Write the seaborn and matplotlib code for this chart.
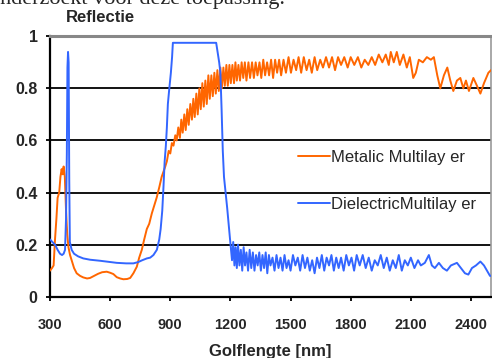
import matplotlib
matplotlib.use("Agg")
import matplotlib.pyplot as plt
import numpy as np
import pandas as pd
import seaborn as sns

# ---------------------------------------------------------------------------
# Data
# ---------------------------------------------------------------------------
metal_nm = [
    300, 310, 318, 325, 332, 338, 346, 352, 358, 363, 368, 374, 380, 386, 392,
    400, 408, 420, 433, 450, 466, 485, 500, 520, 540, 560, 583, 600, 616, 633,
    650, 666, 685, 700, 716, 733, 745, 758, 770, 783, 795, 808, 820, 832, 845,
    857, 866, 875, 883, 892, 900, 908, 916, 925, 932, 940, 948, 955, 962, 970,
    977, 985, 992, 1000, 1008, 1015, 1022, 1030, 1037, 1045, 1052, 1060, 1067,
    1075, 1082, 1090, 1097, 1105, 1112, 1120, 1127, 1135, 1142, 1150, 1157,
    1165, 1172, 1180, 1187, 1195, 1202, 1210, 1218, 1225, 1232, 1240, 1248,
    1256, 1264, 1272, 1280, 1290, 1298, 1308, 1317, 1326, 1335, 1345, 1354,
    1364, 1373, 1383, 1393, 1403, 1413, 1423, 1433, 1443, 1453, 1465, 1477,
    1490, 1502, 1515, 1528, 1540, 1553, 1566, 1580, 1593, 1606, 1620, 1633,
    1648, 1662, 1677, 1692, 1707, 1722, 1737, 1752, 1768, 1785, 1800, 1818,
    1836, 1853, 1870, 1888, 1905, 1922, 1940, 1958, 1975, 1990, 2000, 2015,
    2030, 2045, 2063, 2080, 2095, 2112, 2125, 2140, 2160, 2180, 2200, 2215,
    2232, 2247, 2265, 2282, 2297, 2312, 2330, 2347, 2362, 2375, 2390, 2412,
    2430, 2447, 2465, 2487, 2500,
]
metal_r = [
    0.10, 0.11, 0.12, 0.22, 0.30, 0.38, 0.40, 0.46, 0.49, 0.47, 0.50, 0.46, 0.33, 0.24, 0.19,
    0.16, 0.14, 0.11, 0.09, 0.08, 0.074, 0.07, 0.072, 0.08, 0.088, 0.094, 0.096, 0.092, 0.087, 0.075,
    0.07, 0.067, 0.068, 0.072, 0.09, 0.115, 0.15, 0.18, 0.22, 0.26, 0.28, 0.32, 0.35, 0.38, 0.42,
    0.46, 0.48, 0.50, 0.52, 0.56, 0.55, 0.59, 0.58, 0.62, 0.60, 0.65, 0.61, 0.68, 0.63, 0.70,
    0.64, 0.72, 0.66, 0.74, 0.68, 0.76, 0.69, 0.78, 0.70, 0.80, 0.72, 0.82, 0.73,
    0.83, 0.74, 0.85, 0.76, 0.85, 0.77, 0.86, 0.78, 0.87, 0.79, 0.88, 0.80,
    0.88, 0.81, 0.89, 0.81, 0.89, 0.82, 0.89, 0.82, 0.90, 0.83, 0.89, 0.83,
    0.90, 0.84, 0.90, 0.83, 0.90, 0.84, 0.90, 0.84, 0.90, 0.85, 0.90, 0.84,
    0.91, 0.85, 0.90, 0.85, 0.91, 0.84, 0.91, 0.86, 0.91, 0.85, 0.91, 0.86,
    0.92, 0.86, 0.91, 0.87, 0.92, 0.86, 0.92, 0.87, 0.91, 0.86, 0.92, 0.87,
    0.91, 0.88, 0.92, 0.88, 0.92, 0.87, 0.92, 0.89, 0.92, 0.88, 0.92, 0.89,
    0.92, 0.88, 0.91, 0.89, 0.92, 0.89, 0.93, 0.90, 0.93, 0.89, 0.94, 0.90,
    0.94, 0.89, 0.93, 0.88, 0.92, 0.84, 0.86, 0.91, 0.90, 0.92, 0.91, 0.92,
    0.85, 0.80, 0.85, 0.88, 0.83, 0.79, 0.83, 0.84, 0.80, 0.83, 0.79, 0.84,
    0.81, 0.78, 0.82, 0.86, 0.87,
]

diel_nm = [
    300, 312, 325, 338, 350, 360, 368, 375, 380, 384, 387, 390, 393, 396, 399,
    408, 420, 440, 466, 500, 550, 600, 633, 680, 716, 740, 760, 783, 800, 816,
    833, 845, 852, 860, 866, 872, 878, 883, 888, 894, 903, 909, 913, 950, 1000,
    1050, 1100, 1129, 1136, 1144, 1150, 1156, 1162, 1168, 1176, 1184, 1192,
    1197, 1202, 1208, 1214, 1220, 1226, 1232, 1238, 1245, 1252, 1259, 1266,
    1273, 1280, 1288, 1296, 1304, 1312, 1320, 1328, 1336, 1344, 1352, 1360,
    1368, 1376, 1384, 1392, 1400, 1410, 1420, 1430, 1440, 1450, 1460, 1470,
    1480, 1490, 1500, 1512, 1524, 1536, 1548, 1560, 1572, 1584, 1596, 1608,
    1620, 1632, 1644, 1656, 1668, 1680, 1692, 1704, 1716, 1728, 1740, 1752,
    1765, 1778, 1791, 1804, 1817, 1830, 1845, 1860, 1875, 1890, 1905, 1920,
    1935, 1950, 1965, 1980, 1995, 2010, 2025, 2040, 2055, 2070, 2085, 2100,
    2118, 2136, 2150, 2170, 2190, 2205, 2220, 2240, 2260, 2280, 2300, 2330,
    2350, 2370, 2387, 2405, 2425, 2447, 2465, 2480, 2495, 2500,
]
diel_r = [
    0.22, 0.21, 0.20, 0.18, 0.165, 0.16, 0.165, 0.18, 0.30, 0.55, 0.88, 0.94, 0.90, 0.45, 0.21,
    0.18, 0.165, 0.155, 0.147, 0.142, 0.138, 0.133, 0.13, 0.128, 0.128, 0.133, 0.14, 0.147, 0.15, 0.16,
    0.18, 0.22, 0.26, 0.33, 0.42, 0.52, 0.58, 0.65, 0.74, 0.79, 0.86, 0.92, 0.975, 0.975, 0.975,
    0.975, 0.975, 0.975, 0.94, 0.90, 0.86, 0.72, 0.56, 0.46, 0.40, 0.34, 0.27,
    0.23, 0.19, 0.14, 0.21, 0.12, 0.19, 0.11, 0.20, 0.12, 0.18, 0.10, 0.19,
    0.12, 0.17, 0.10, 0.18, 0.11, 0.17, 0.10, 0.16, 0.12, 0.17, 0.10, 0.16,
    0.11, 0.17, 0.09, 0.16, 0.12, 0.15, 0.10, 0.16, 0.11, 0.15, 0.10, 0.16,
    0.11, 0.14, 0.10, 0.16, 0.12, 0.15, 0.10, 0.16, 0.11, 0.15, 0.10, 0.14,
    0.09, 0.15, 0.11, 0.16, 0.10, 0.15, 0.12, 0.16, 0.10, 0.15, 0.11, 0.15,
    0.10, 0.16, 0.12, 0.15, 0.10, 0.16, 0.12, 0.16, 0.11, 0.15, 0.10, 0.14,
    0.12, 0.16, 0.11, 0.15, 0.10, 0.14, 0.11, 0.16, 0.10, 0.14, 0.12, 0.15,
    0.11, 0.14, 0.12, 0.13, 0.16, 0.12, 0.11, 0.13, 0.11, 0.10, 0.12, 0.13,
    0.11, 0.09, 0.085, 0.11, 0.12, 0.135, 0.12, 0.10, 0.08, 0.08,
]

series_names = ["Metalic Multilay er", "DielectricMultilay er"]
series_colors = ["#FF6600", "#3366FF"]
x_ticks = [300, 600, 900, 1200, 1500, 1800, 2100, 2400]
y_ticks = [0, 0.2, 0.4, 0.6, 0.8, 1]
y_tick_labels = ["0", "0.2", "0.4", "0.6", "0.8", "1"]

df = pd.concat([
    pd.DataFrame({"nm": metal_nm, "R": metal_r, "serie": series_names[0]}),
    pd.DataFrame({"nm": diel_nm, "R": diel_r, "serie": series_names[1]}),
], ignore_index=True)

# ---------------------------------------------------------------------------
# Plot
# ---------------------------------------------------------------------------
sns.set_style("white")
plt.rcParams["font.family"] = ["Liberation Sans", "DejaVu Sans"]

W, H = 492, 358
fig = plt.figure(figsize=(W / 100, H / 100), dpi=100)
ax = fig.add_axes([50 / W, 1 - 296.7 / H, 441 / W, 260.4 / H])

# horizontal gridlines
for yv in [0.2, 0.4, 0.6, 0.8]:
    ax.axhline(yv, color="black", lw=1.3, zorder=1)

sns.lineplot(
    data=df, x="nm", y="R", hue="serie",
    palette=dict(zip(series_names, series_colors)),
    estimator=None, sort=False, lw=1.4, ax=ax, zorder=3,
)

ax.set_xlim(300, 2500)
ax.set_ylim(0, 1)
ax.set_xticks(x_ticks)
ax.set_xticklabels([str(t) for t in x_ticks], fontsize=10.5, fontweight="bold")
ax.set_yticks(y_ticks)
ax.set_yticklabels(y_tick_labels, fontsize=11.5, fontweight="bold")
ax.tick_params(axis="both", direction="out", length=3, width=1.3, color="black",
               left=True, bottom=True)
ax.tick_params(axis="y", pad=6)
ax.tick_params(axis="x", pad=12)

for side in ["left", "bottom"]:
    ax.spines[side].set_color("black")
    ax.spines[side].set_linewidth(1.6)
ax.spines["top"].set_color("#888888")
ax.spines["top"].set_linewidth(2.2)
ax.spines["right"].set_color("#999999")
ax.spines["right"].set_linewidth(1.2)

ax.set_xlabel("Golflengte [nm]", fontsize=12, fontweight="bold", labelpad=9)
ax.set_ylabel("")

handles, labels = ax.get_legend_handles_labels()
ax.legend(
    handles, labels, loc="center left",
    bbox_to_anchor=(290 / W, 1 - 181 / H), bbox_transform=fig.transFigure,
    frameon=False, fontsize=12, handlelength=1.9, handletextpad=0.05,
    labelspacing=1.95, borderpad=0,
)

fig.text(66 / W, 1 - 17.5 / H, "Reflectie", fontsize=12, fontweight="bold",
         ha="left", va="center")
# cut-off line of document text at the very top
fig.text(-11 / W, 1 - 4 / H, "onderzoekt voor deze toepassing.",
         fontsize=16, family=["Liberation Serif", "DejaVu Serif"],
         ha="left", va="baseline")

fig.savefig("out.png", dpi=100)
